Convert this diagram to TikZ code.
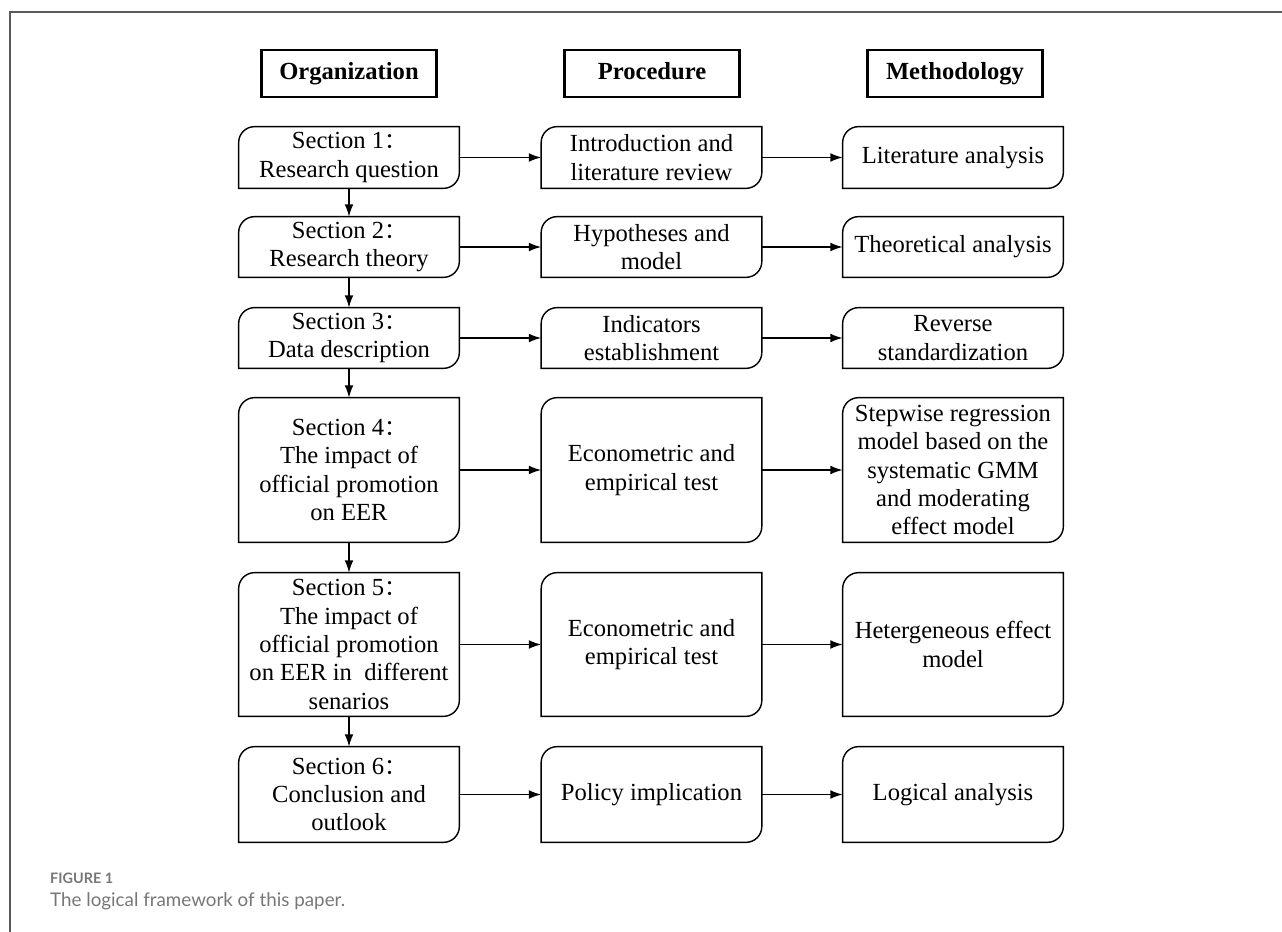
\documentclass[tikz,border=0pt]{standalone}
\usepackage{fontspec}
\setmainfont{Liberation Serif}
\newfontfamily\capfont{Lato}
\newfontfamily\cjk{Noto Sans CJK SC}
\usetikzlibrary{arrows.meta}
\definecolor{capgray}{HTML}{777777}
\definecolor{framegray}{HTML}{5A5A5A}
\newcommand{\cln}{\smash{{\cjk\fontsize{12.5}{12.5}\selectfont ：}}}
\tikzset{
  headbox/.style={draw,line width=1.4pt,minimum width=3.5cm,minimum height=.94cm,inner sep=0pt,
    text height=9.8pt,text depth=2.6pt,font=\fontsize{14}{16.2}\selectfont\bfseries},
  secbox/.style={minimum width=4.4cm,inner sep=0pt,align=center,
    font=\fontsize{14}{16.2}\selectfont},
  flow/.style={-{Latex[length=7pt,width=5pt]},line width=.8pt},
}

\begin{document}
\begin{tikzpicture}[x=.02cm,y=-.02cm]
  \useasboundingbox (0,0) rectangle (1282,932);
  \draw[framegray,line width=.9pt] (10,932) -- (10,12) -- (1282,12);
  % headers
  \draw(349,73.5) node[headbox] (org) {Organization};
  \draw(652,73.5) node[headbox] (proc) {Procedure};
  \draw(955,73.5) node[headbox] (meth) {Methodology};
  % organization column
  \draw(349,157.5) node[secbox,minimum height=1.22cm] (s1) {Section 1\cln\\Research question};
  \draw(349,247) node[secbox,minimum height=1.2cm] (s2) {Section 2\cln\\Research theory};
  \draw(349,338) node[secbox,minimum height=1.2cm] (s3) {Section 3\cln\\Data description};
  \draw(349,470) node[secbox,minimum height=2.88cm] (s4) {Section 4\cln\\ The impact of\\official promotion\\on EER};
  \draw(349,644.5) node[secbox,minimum height=2.86cm] (s5) {Section 5\cln\\ The impact of\\official promotion\\on EER in\ \ different\\senarios};
  \draw(349,794.5) node[secbox,minimum height=1.9cm] (s6) {Section 6\cln\\Conclusion and\\outlook};
  % procedure column
  \draw(651.5,157.5) node[secbox,minimum height=1.22cm] (p1) {Introduction and\\literature review};
  \draw(651.5,247) node[secbox,minimum height=1.2cm] (p2) {Hypotheses and\\model};
  \draw(651.5,338) node[secbox,minimum height=1.2cm] (p3) {Indicators\\establishment};
  \draw(651.5,470) node[secbox,minimum height=2.88cm] (p4) {Econometric and\\empirical test};
  \draw(651.5,644.5) node[secbox,minimum height=2.86cm] (p5) {Econometric and\\empirical test};
  \draw(651.5,794.5) node[secbox,minimum height=1.9cm] (p6) {Policy implication};
  % methodology column
  \draw(953,157.5) node[secbox,minimum height=1.22cm] (m1) {Literature analysis};
  \draw(953,247) node[secbox,minimum height=1.2cm] (m2) {Theoretical analysis};
  \draw(953,338) node[secbox,minimum height=1.2cm] (m3) {Reverse\\standardization};
  \draw(953,470) node[secbox,minimum height=2.88cm] (m4) {Stepwise regression\\model based on the\\systematic GMM\\and moderating\\effect model};
  \draw(953,644.5) node[secbox,minimum height=2.86cm] (m5) {Hetergeneous effect\\model};
  \draw(953,794.5) node[secbox,minimum height=1.9cm] (m6) {Logical analysis};
  % outlines, rounded at top left and bottom right
  \foreach \c in {s,p,m}
    \foreach \i in {1,...,6}
      \draw[line width=.8pt] ([xshift=9pt]\c\i.north west) -- (\c\i.north east) -- ([yshift=9pt]\c\i.south east)
        arc[start angle=0,end angle=-90,radius=9pt] -- (\c\i.south west) -- ([yshift=-9pt]\c\i.north west)
        arc[start angle=180,end angle=90,radius=9pt] -- cycle;
  \foreach \i in {1,...,6} {
    \draw[flow] (s\i) -- (p\i);
    \draw[flow] (p\i) -- (m\i);
  }
  \foreach \i/\j in {1/2,2/3,3/4,4/5,5/6}
    \draw[flow] (s\i) -- (s\j);
  % caption
  \node[anchor=base west,text=capgray,font=\capfont\bfseries\fontsize{8.2}{9}\selectfont] (fig) at (44,883) {FIGURE 1};
  \node[anchor=base west,text=capgray,font=\capfont\fontsize{10.7}{12}\selectfont] (cap) at (44,906) {The logical framework of this paper.};
\end{tikzpicture}
\end{document}
